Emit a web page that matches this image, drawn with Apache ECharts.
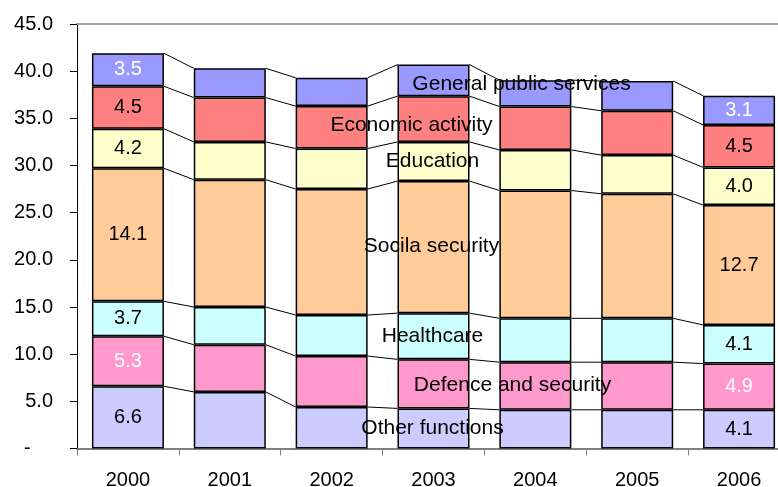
<!DOCTYPE html>
<html>
<head>
<meta charset="utf-8">
<script src="https://cdn.jsdelivr.net/npm/echarts@6/dist/echarts.min.js"></script>
<style>
  html, body { margin: 0; padding: 0; background: #fff; overflow: hidden; }
  #chart { width: 778px; height: 487px; }
</style>
</head>
<body>
<div id="chart"></div>
<script>
// Public expenditure by function, share of GDP (%), 2000-2006
const years = ['2000', '2001', '2002', '2003', '2004', '2005', '2006'];

const otherFunctions   = [6.6, 6.0, 4.4, 4.25, 4.1, 4.1, 4.1];
const defenceSecurity  = [5.3, 5.0, 5.4, 5.2, 5.05, 5.05, 4.9];
const healthcare       = [3.7, 4.0, 4.35, 4.9, 4.65, 4.65, 4.1];
const socialSecurity   = [14.1, 13.5, 13.35, 14.0, 13.55, 13.2, 12.7];
const education        = [4.2, 4.0, 4.3, 4.15, 4.3, 4.1, 4.0];
const economicActivity = [4.5, 4.7, 4.5, 4.85, 4.6, 4.7, 4.5];
const generalServices  = [3.5, 3.1, 3.0, 3.35, 2.8, 3.15, 3.1];

const yTicks = { min: 0, max: 45, step: 5 };

// Series in stacking order, bottom to top
const layers = [
  { name: 'Other functions',         values: otherFunctions,   color: '#CCCCFF', text: '#000', nameShift: [-1, 0] },
  { name: 'Defence and security',    values: defenceSecurity,  color: '#FF99CC', text: '#fff', nameShift: [79, 1] },
  { name: 'Healthcare',              values: healthcare,       color: '#CCFFFF', text: '#000', nameShift: [-1, 0] },
  { name: 'Socila security',         values: socialSecurity,   color: '#FFCC99', text: '#000', nameShift: [-2, -1] },
  { name: 'Education',               values: education,        color: '#FFFFCC', text: '#000', nameShift: [-1, 0] },
  { name: 'Economic activity',       values: economicActivity, color: '#FF8080', text: '#000', nameShift: [-22, 6] },
  { name: 'General public services', values: generalServices,  color: '#9999FF', text: '#fff', nameShift: [88, 4] }
];

const FONT = 'Liberation Sans, Arial, sans-serif';
const BAR_W = 72;
const NAME_AT = 3;               // category whose segments carry the series names
const VALUE_AT = [0, years.length - 1];

// cumulative tops of each layer per category
const tops = [];
layers.forEach((l, k) => {
  tops.push(l.values.map((v, i) => v + (k > 0 ? tops[k - 1][i] : 0)));
});

const barSeries = layers.map(l => ({
  name: l.name,
  type: 'bar',
  stack: 'total',
  barWidth: BAR_W,
  itemStyle: { color: l.color, borderColor: '#000', borderWidth: 1.5 },
  emphasis: { disabled: true },
  data: l.values.map((v, i) => {
    const item = { value: v };
    if (VALUE_AT.includes(i)) {
      item.label = {
        show: true, position: 'inside',
        formatter: v.toFixed(1),
        color: l.text, fontFamily: FONT, fontSize: 20
      };
    } else if (i === NAME_AT) {
      item.label = {
        show: true, position: 'inside',
        formatter: l.name,
        offset: l.nameShift,
        color: '#000', fontFamily: FONT, fontSize: 21
      };
    }
    return item;
  })
}));

// connector lines joining each layer's top between neighbouring bars
const connectorSeries = {
  type: 'custom',
  silent: true,
  z: 1,
  data: years.slice(0, -1).map((_, i) => [i]),
  renderItem: function (params, api) {
    const i = api.value(0);
    const half = BAR_W / 2;
    const children = tops.map(row => {
      const a = api.coord([i, row[i]]);
      const b = api.coord([i + 1, row[i + 1]]);
      return {
        type: 'line',
        shape: { x1: a[0] + half, y1: a[1], x2: b[0] - half, y2: b[1] },
        style: { stroke: '#000', lineWidth: 1 }
      };
    });
    return { type: 'group', children };
  }
};

const chart = echarts.init(document.getElementById('chart'), null, { renderer: 'canvas' });
chart.setOption({
  animation: false,
  backgroundColor: '#fff',
  grid: { left: 77, top: 24, right: -12, bottom: 38.5, outerBoundsMode: 'none', containLabel: false },
  xAxis: [
    {
      type: 'category',
      data: years,
      axisLine: { lineStyle: { color: '#808080', width: 2 } },
      axisTick: { show: true, length: 7, lineStyle: { color: '#808080', width: 1 } },
      axisLabel: { color: '#000', fontFamily: FONT, fontSize: 20, margin: 22 }
    },
    {
      type: 'category',
      data: years,
      position: 'top',
      axisLine: { lineStyle: { color: '#a0a0a0', width: 2 } },
      axisTick: { show: false },
      axisLabel: { show: false }
    }
  ],
  yAxis: {
    type: 'value',
    min: yTicks.min,
    max: yTicks.max,
    interval: yTicks.step,
    axisLine: { show: true, lineStyle: { color: '#000', width: 1 } },
    axisTick: { show: true, length: 7, lineStyle: { color: '#000', width: 1 } },
    splitLine: { show: false },
    axisLabel: {
      color: '#000', fontFamily: FONT, fontSize: 20, margin: 24,
      formatter: v => (v === 0 ? '-    ' : v.toFixed(1))
    }
  },
  series: barSeries.concat([connectorSeries])
});
</script>
</body>
</html>
